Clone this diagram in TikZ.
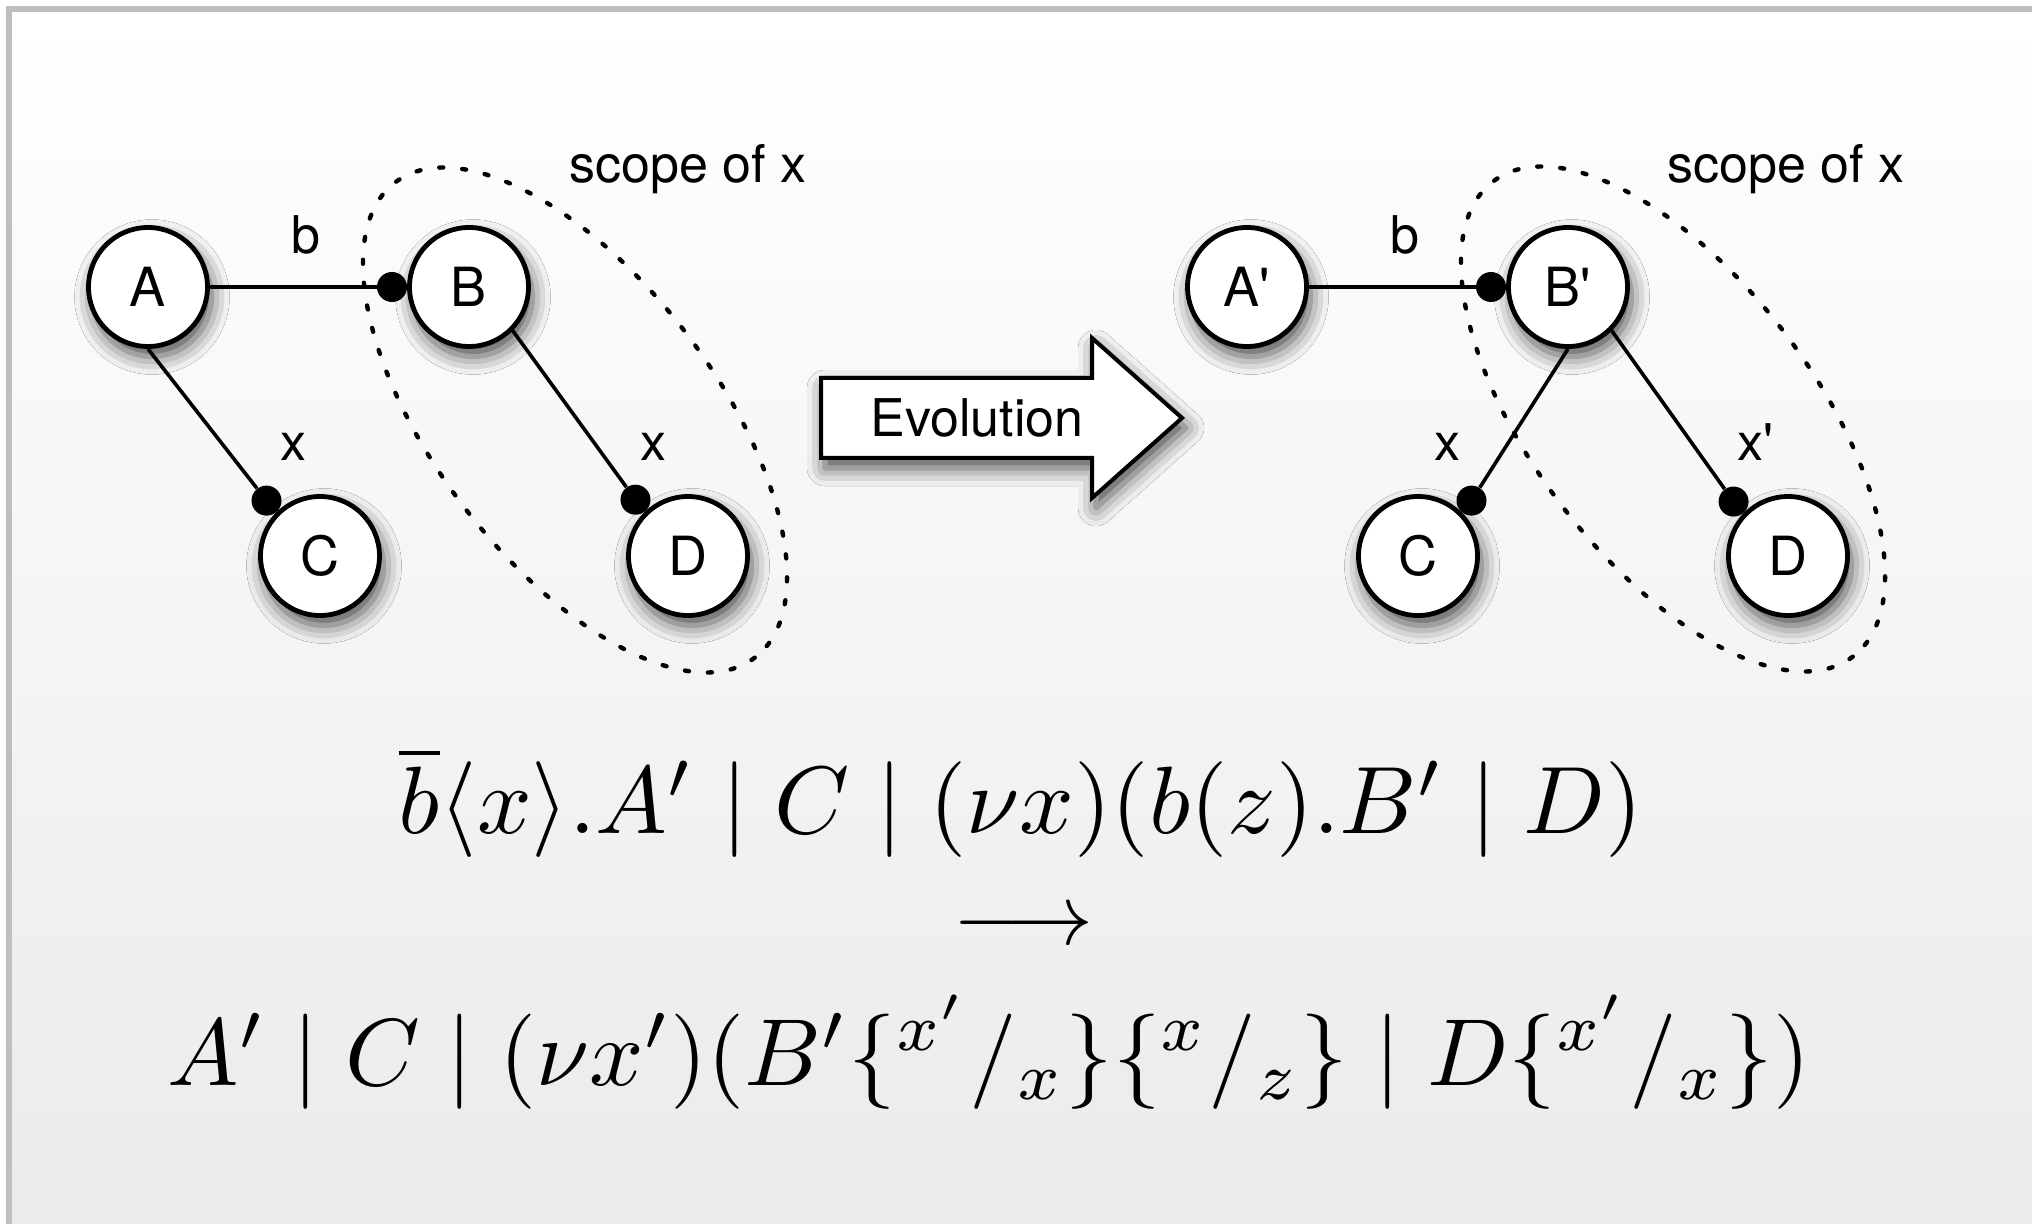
\documentclass[tikz,border=0pt]{standalone}
\usepackage{fontspec}
\usepackage{graphicx}
\newfontfamily\lf{TeX Gyre Heros}
\usetikzlibrary{calc,shadows.blur}
\begin{document}
\begin{tikzpicture}[x=0.5pt,y=-0.5pt,
  softshadow/.style={blur shadow={shadow xshift=2pt,shadow yshift=-5pt,shadow blur radius=9pt,shadow opacity=70}},
  proc/.style={circle,draw,line width=2.4pt,fill=white,minimum size=59.5pt,inner sep=0pt,
    font=\lf\fontsize{27}{31}\selectfont,softshadow},
  port/.style={circle,fill=black,minimum size=15pt,inner sep=0pt},
  link/.style={line width=1.8pt},
  lbl/.style={font=\lf\fontsize{26}{30}\selectfont,inner sep=0pt,anchor=base},
  scopeline/.style={line width=2.2pt,line cap=round,dash pattern=on 2pt off 9.5pt},
]
\useasboundingbox (0,0) rectangle (2032,1224);
% background and frame
\fill[white] (0,0) rectangle (2032,1224);
\shade[top color=white,bottom color=black!8] (12,12) rectangle (2032,1224);
\fill[black!25] (6,6) rectangle (2032,12);
\fill[black!25] (6,6) rectangle (12,1224);

% left graph nodes
\node[proc] (A) at (148,287) {A};
\node[proc] (B) at (469,287) {B};
\node[proc] (C) at (320,556) {C};
\node[proc] (D) at (688,556) {D};
% right graph nodes
\node[proc] (A2) at (1247,287) {A\textquotesingle};
\node[proc] (B2) at (1568,287) {B\textquotesingle};
\node[proc] (C2) at (1418,556) {C};
\node[proc] (D2) at (1788,556) {D};

% ports
\node[port] (pB) at ($(B)+(180:38.5pt)$) {};
\node[port] (pC) at ($(C)+(134:38.5pt)$) {};
\node[port] (pD) at ($(D)+(133:38.5pt)$) {};
\node[port] (pB2) at ($(B2)+(180:38.5pt)$) {};
\node[port] (pC2) at ($(C2)+(46:38.5pt)$) {};
\node[port] (pD2) at ($(D2)+(135:38.5pt)$) {};

% links
\draw[link] (A) -- (pB);
\draw[link] (A.south) -- (pC);
\draw[link] (B.south east) -- (pD);
\draw[link] (A2) -- (pB2);
\draw[link] (B2.south) -- (pC2);
\draw[link] (B2.south east) -- (pD2);

% labels
\node[lbl] (lb1) at (306,254) {b};
\node[lbl] (lx1) at (293,460) {x};
\node[lbl] (lx2) at (653,460) {x};
\node[lbl] (ls1) at (688,183) {scope of x};
\node[lbl] (lb2) at (1405,254) {b};
\node[lbl] (lx3) at (1447,460) {x};
\node[lbl] (lx4) at (1755,460) {x\textquotesingle};
\node[lbl] (ls2) at (1786,183) {scope of x};

% scope ellipses
\begin{scope}[shift={(575,420)},rotate=-52.9]
  \draw[scopeline] (0,0) ellipse [x radius=298, y radius=141];
\end{scope}
\begin{scope}[shift={(1673,419)},rotate=-52.9]
  \draw[scopeline] (0,0) ellipse [x radius=298, y radius=141];
\end{scope}

% evolution arrow
\draw[line width=2pt,fill=white,softshadow]
  (821,378) -- (1092,378) -- (1092,338) -- (1182,418) -- (1092,498) -- (1092,458) -- (821,458) -- cycle;
\node[lbl] (evo) at (977,437) {Evolution};

% formulas
\node[anchor=base,inner sep=0pt] (eq1) at (1021,833)
  {\resizebox{622pt}{!}{$\overline{b}\langle x\rangle.A' \mid C \mid (\nu x)(b(z).B' \mid D)$}};
\node[anchor=base,inner sep=0pt] (arr) at (1023,944)
  {\resizebox{70pt}{!}{$\longrightarrow$}};
\node[anchor=base,inner sep=0pt] (eq2) at (989,1085)
  {\resizebox{821pt}{!}{$A' \mid C \mid (\nu x')(B'\{^{x'}/_{x}\}\{^{x}/_{z}\} \mid D\{^{x'}/_{x}\})$}};
\end{tikzpicture}
\end{document}
